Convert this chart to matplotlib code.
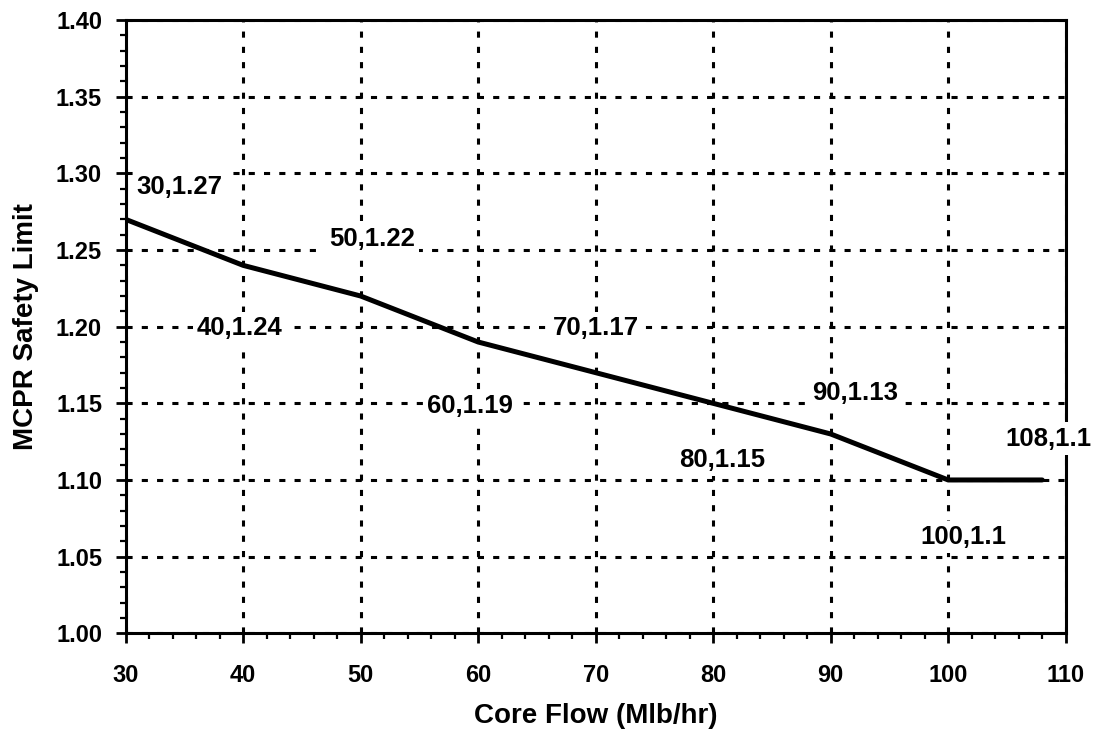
import matplotlib
matplotlib.use("Agg")
import matplotlib.pyplot as plt
import matplotlib.ticker as ticker

plt.rcParams['font.family'] = ['Liberation Sans', 'DejaVu Sans']
plt.rcParams['font.weight'] = 'bold'

core_flow = [30, 40, 50, 60, 70, 80, 90, 100, 108]
mcpr_limit = [1.27, 1.24, 1.22, 1.19, 1.17, 1.15, 1.13, 1.10, 1.10]
point_labels = ['30,1.27', '40,1.24', '50,1.22', '60,1.19', '70,1.17',
                '80,1.15', '90,1.13', '100,1.1', '108,1.1']
# where each label sits (data coords)
label_pos = [(34.6, 1.291), (39.7, 1.199), (51.0, 1.257), (59.3, 1.148),
             (70.0, 1.199), (80.8, 1.113), (92.1, 1.157), (101.3, 1.063),
             (108.5, 1.127)]

fig, ax = plt.subplots(figsize=(10.93, 7.45), dpi=100)
fig.subplots_adjust(left=0.115, right=0.975, top=0.973, bottom=0.15)

ax.plot(core_flow, mcpr_limit, color='black', linewidth=3.6,
        solid_capstyle='round', zorder=3)

for txt, (lx, ly) in zip(point_labels, label_pos):
    ax.text(lx, ly, txt, ha='center', va='center', fontsize=18.5,
            fontweight='bold', zorder=5, clip_on=False,
            bbox=dict(facecolor='white', edgecolor='none', pad=3))

ax.set_xlim(30, 110)
ax.set_ylim(1.00, 1.40)
ax.xaxis.set_major_locator(ticker.MultipleLocator(10))
ax.xaxis.set_minor_locator(ticker.MultipleLocator(2))
ax.yaxis.set_major_locator(ticker.MultipleLocator(0.05))
ax.yaxis.set_minor_locator(ticker.MultipleLocator(0.01))
ax.yaxis.set_major_formatter(ticker.FormatStrFormatter('%.2f'))

ax.grid(True, which='major', color='black', linewidth=2.2,
        linestyle=(0, (2, 3)), zorder=1)
ax.set_axisbelow(True)

for s in ax.spines.values():
    s.set_linewidth(2.2)
    s.set_zorder(4)

ax.tick_params(which='major', direction='out', length=7, width=2,
               labelsize=17)
ax.tick_params(axis='x', which='major', pad=15)
ax.tick_params(axis='y', which='major', pad=10)
ax.tick_params(which='minor', direction='out', length=4, width=1.6)
for lab in ax.get_xticklabels() + ax.get_yticklabels():
    lab.set_fontweight('bold')

ax.set_xlabel('Core Flow (Mlb/hr)', fontsize=20, fontweight='bold', labelpad=12)
ax.set_ylabel('MCPR Safety Limit', fontsize=20, fontweight='bold', labelpad=12)

fig.savefig('out.png', dpi=100)
